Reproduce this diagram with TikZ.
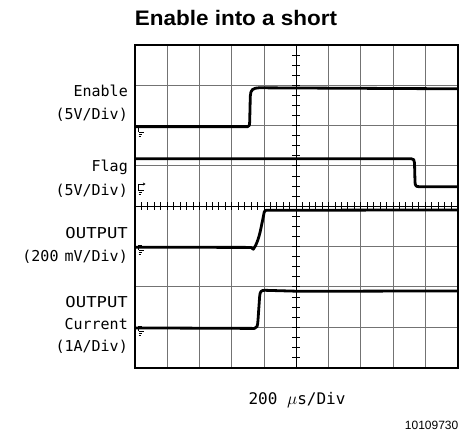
\documentclass[tikz,border=0pt]{standalone}
\usepackage{fontspec}
\setmainfont{Liberation Sans}
\newfontfamily\lblfont{DejaVu Sans Mono}
\usetikzlibrary{arrows.meta}
\begin{document}
\begin{tikzpicture}[x=1pt,y=-1pt,
  gridline/.style={draw=black!55, line width=0.9pt},
  axisline/.style={draw=black, line width=1.1pt},
  tickline/.style={draw=black, line width=0.9pt},
  frameline/.style={draw=black, line width=2pt},
  trace/.style={draw=black, line width=2.8pt, line join=round, line cap=butt},
  gndline/.style={draw=black, line width=0.6pt},
  lbl/.style={anchor=base east, inner sep=0pt, font=\fontsize{15}{18}\selectfont\lblfont},
  titlelbl/.style={anchor=base, inner sep=0pt, font=\fontsize{21}{24}\selectfont\bfseries},
  timelbl/.style={anchor=base, inner sep=0pt, font=\fontsize{16}{19}\selectfont\lblfont},
  idlbl/.style={anchor=base east, inner sep=0pt, font=\fontsize{12}{14}\selectfont}]
\useasboundingbox (0,0) rectangle (462,432);
\def\xa{135}\def\xb{457.5}\def\ya{45}\def\yb{367.5}
\def\dx{32.25}\def\dy{40.3125}
% grid
\foreach \i in {1,2,3,4,6,7,8,9}
  \draw[gridline] ({\xa+\i*\dx},\ya) -- ({\xa+\i*\dx},\yb);
\foreach \j in {1,2,3,5,6,7}
  \draw[gridline] (\xa,{\ya+\j*\dy}) -- (\xb,{\ya+\j*\dy});
% center axes
\draw[axisline] (296.25,\ya) -- (296.25,\yb);
\draw[axisline] (\xa,206.25) -- (\xb,206.25);
% ticks
\foreach \k in {1,...,49}
  \draw[tickline] ({\xa+\k*\dx/5},202.25) -- ({\xa+\k*\dx/5},210.25);
\foreach \k in {1,...,31}
  \draw[tickline] (292.25,{\ya+\k*\dy/4}) -- (300.25,{\ya+\k*\dy/4});
% ground markers
\draw[gndline] (138.5,127) -- (138.5,132.2);
\draw[gndline] (138.5,132.2) -- (143.5,132.2) (138.5,134.3) -- (142.2,134.3) (138.5,136.3) -- (141,136.3);
\draw[gndline] (138.5,184) -- (138.5,190.5);
\draw[gndline, -{Stealth[length=2.6pt,width=3pt]}] (138.5,184) -- (145.5,184);
\draw[gndline] (138.5,190.5) -- (143.5,190.5) (138.5,192.6) -- (142.2,192.6) (138.5,194.6) -- (141,194.6);
\draw[gndline] (138.5,245) -- (138.5,250);
\draw[gndline] (138.5,245) -- (141.5,245);
\draw[gndline] (138.5,250) -- (143.5,250) (138.5,252.1) -- (142.2,252.1) (138.5,254.1) -- (141,254.1);
\draw[gndline] (138.5,326) -- (138.5,331);
\draw[gndline] (138.5,326) -- (141.5,326);
\draw[gndline] (138.5,331) -- (143.5,331) (138.5,333.1) -- (142.2,333.1) (138.5,335.1) -- (141,335.1);
% traces
\draw[trace] (\xa,126.6) -- (247.8,126.6) .. controls (249.3,126.6) and (249.6,125) .. (249.7,121)
  -- (250.3,96) .. controls (250.6,89.5) and (253,88) .. (259,87.8) -- (\xb,88.8);
\draw[trace] (\xa,158.8) -- (411.5,158.8) .. controls (413.8,158.8) and (414.3,160) .. (414.5,163)
  -- (415,182) .. controls (415.2,186) and (416,186.7) .. (419.5,186.7) -- (\xb,186.7);
\draw[trace] (\xa,247.2) -- (251,247.4) -- (253.3,249.2) .. controls (256,246) and (259,238) .. (261,228)
  -- (264.3,211.8) -- (266,210.3) -- (\xb,209.9);
\draw[trace] (\xa,327.9) -- (254.5,328.4) .. controls (257,328.4) and (257.6,326) .. (258,320)
  -- (259.6,297) .. controls (260,291.2) and (261,290.3) .. (265,290.3) -- (300,291.3) -- (\xb,290.9);
% frame
\draw[frameline] (\xa,\ya) rectangle (\xb,\yb);
% labels
\node[titlelbl] (title) at (236,25) {\scalebox{1.07}[1]{Enable into a short}};
\node[lbl] (enA) at (128,96.7) {Enable};
\node[lbl] (enB) at (128,119.2) {(5V/Div)};
\node[lbl] (flA) at (128,171.7) {Flag};
\node[lbl] (flB) at (128,195) {(5V/Div)};
\node[lbl] (ovA) at (128,238.3) {\scalebox{1.15}[1]{OUTPUT}};
\node[lbl] (ovB) at (128,261.7) {(200\hspace{-3pt} mV/Div)};
\node[lbl] (ocA) at (128,307.3) {\scalebox{1.15}[1]{OUTPUT}};
\node[lbl] (ocB) at (128,329.3) {Current};
\node[lbl] (ocC) at (128,351.7) {(1A/Div)};
\node[timelbl] (time) at (297,404) {200 $\mu$s/Div};
\node[idlbl] (fig) at (458.5,429) {10109730};
\end{tikzpicture}
\end{document}
